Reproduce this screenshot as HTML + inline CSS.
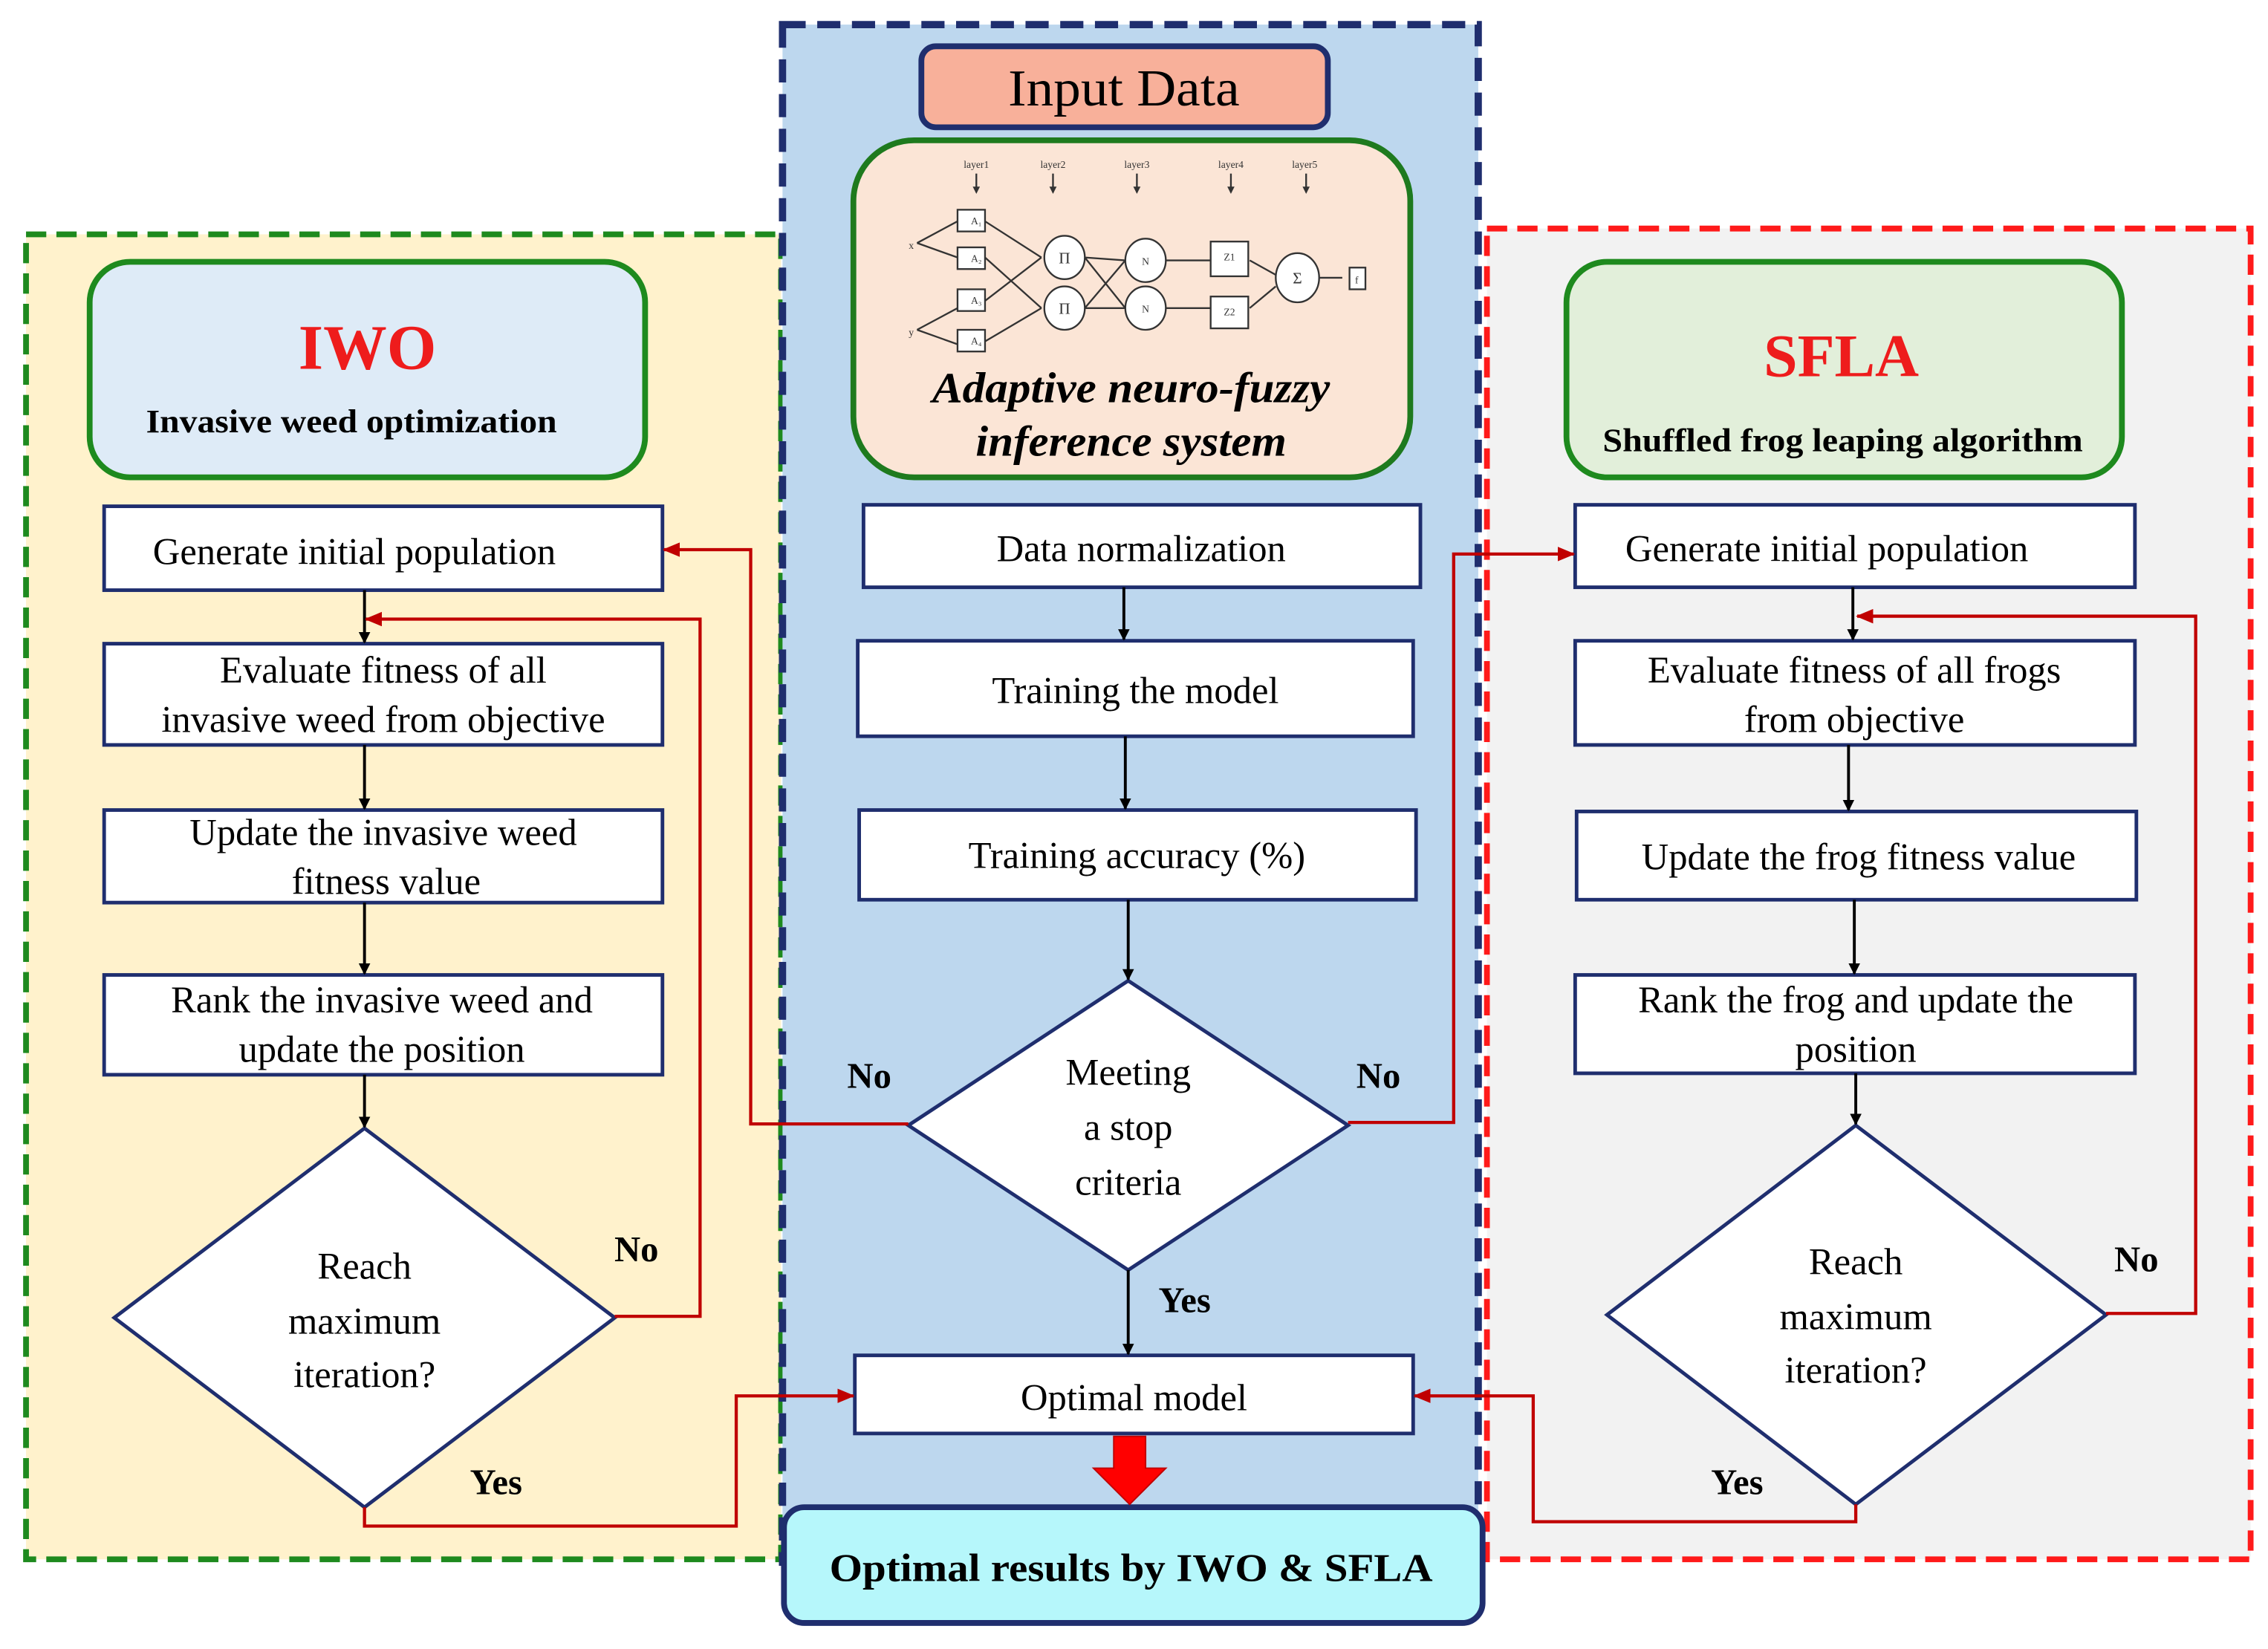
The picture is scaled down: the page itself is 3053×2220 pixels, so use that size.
<!DOCTYPE html>
<html><head><meta charset="utf-8"><style>html,body{margin:0;padding:0;background:#fff}svg{display:block}</style></head>
<body>
<svg width="3053" height="2220" viewBox="0 0 1568 1140" preserveAspectRatio="none" xmlns="http://www.w3.org/2000/svg" font-family="'Liberation Serif',serif">
<defs>
<marker id="ab" markerWidth="8" markerHeight="8" refX="7" refY="4" orient="auto" markerUnits="userSpaceOnUse"><path d="M0,0 L8,4 L0,8 z" fill="#000"/></marker>
<marker id="ar" markerWidth="12" markerHeight="10" refX="11" refY="5" orient="auto" markerUnits="userSpaceOnUse"><path d="M0,0 L12,5 L0,10 z" fill="#c00000"/></marker>
<marker id="as" markerWidth="5" markerHeight="5" refX="4" refY="2.5" orient="auto" markerUnits="userSpaceOnUse"><path d="M0,0 L5,2.5 L0,5 z" fill="#333"/></marker>
</defs>
<rect width="1568" height="1140" fill="#fff"/>
<rect x="18" y="162" width="522" height="916" fill="#fff2cc" stroke="#1e8a1e" stroke-width="4" stroke-dasharray="14,7"/>
<rect x="1028" y="158" width="528" height="920" fill="#f2f2f2" stroke="#ff1a1a" stroke-width="4" stroke-dasharray="14,7"/>
<rect x="541" y="17" width="481" height="1063" fill="#bdd7ee" stroke="#1f2e6e" stroke-width="5" stroke-dasharray="16,8"/>
<rect x="637" y="32" width="281" height="56" rx="10" fill="#f8b09a" stroke="#1f2e6e" stroke-width="4"/>
<text x="777" y="73" font-size="36" text-anchor="middle" textLength="160" lengthAdjust="spacingAndGlyphs">Input Data</text>
<rect x="590" y="97" width="385" height="233" rx="42" fill="#fbe5d6" stroke="#1e7a1e" stroke-width="4"/>
<rect x="62" y="181" width="384" height="149" rx="28" fill="#deebf7" stroke="#1e8a1e" stroke-width="4"/>
<text x="254" y="255" font-size="44" font-weight="bold" fill="#ee1c1c" text-anchor="middle">IWO</text>
<text x="243" y="299" font-size="23" font-weight="bold" text-anchor="middle" textLength="284" lengthAdjust="spacingAndGlyphs">Invasive weed optimization</text>
<rect x="1083" y="181" width="384" height="149" rx="28" fill="#e2efda" stroke="#1e8a1e" stroke-width="4"/>
<text x="1273" y="260" font-size="42" font-weight="bold" fill="#ee1c1c" text-anchor="middle">SFLA</text>
<text x="1274" y="312" font-size="23" font-weight="bold" text-anchor="middle" textLength="332" lengthAdjust="spacingAndGlyphs">Shuffled  frog  leaping  algorithm</text>
<g stroke="#333" stroke-width="1.2" fill="#fff" font-size="7">
<g fill="#333" stroke="none" text-anchor="middle"><text x="675" y="116">layer1</text><text x="728" y="116">layer2</text><text x="786" y="116">layer3</text><text x="851" y="116">layer4</text><text x="902" y="116">layer5</text><text x="630" y="172">x</text><text x="630" y="232">y</text></g>
<g fill="none"><path d="M675,120V133" marker-end="url(#as)"/><path d="M728,120V133" marker-end="url(#as)"/><path d="M786,120V133" marker-end="url(#as)"/><path d="M851,120V133" marker-end="url(#as)"/><path d="M903,120V133" marker-end="url(#as)"/>
<path d="M634,168L662,153M634,168L662,178M634,228L662,213M634,228L662,238"/>
<path d="M681,153L720,178M681,178L720,213M681,208L720,178M681,236L720,213"/>
<path d="M750,178L778,180M750,213L778,213M750,178L778,213M750,213L778,180"/>
<path d="M806,180L837,180M806,213L837,213M864,180L882,190M864,213L882,198M912,192L928,192"/></g>
<rect x="662" y="145" width="19" height="15"/><rect x="662" y="171" width="19" height="15"/><rect x="662" y="200" width="19" height="15"/><rect x="662" y="228" width="19" height="15"/>
<ellipse cx="736" cy="178" rx="14" ry="15"/><ellipse cx="736" cy="213" rx="14" ry="15"/>
<ellipse cx="792" cy="180" rx="14" ry="15"/><ellipse cx="792" cy="213" rx="14" ry="15"/>
<rect x="837" y="167" width="26" height="24"/><rect x="837" y="205" width="26" height="22"/>
<ellipse cx="897" cy="192" rx="15" ry="17"/><rect x="933" y="185" width="11" height="15"/>
<g fill="#333" stroke="none" text-anchor="middle"><text x="675" y="155">A₁</text><text x="675" y="181">A₂</text><text x="675" y="210">A₃</text><text x="675" y="238">A₄</text><text x="736" y="182" font-size="11">Π</text><text x="736" y="217" font-size="11">Π</text><text x="792" y="183">N</text><text x="792" y="216">N</text><text x="850" y="180">Z1</text><text x="850" y="218">Z2</text><text x="897" y="196" font-size="11">Σ</text><text x="938" y="196">f</text></g>
</g>
<text x="782" y="278" font-size="30" font-weight="bold" font-style="italic" text-anchor="middle" textLength="275" lengthAdjust="spacingAndGlyphs">Adaptive neuro-fuzzy</text>
<text x="782" y="315" font-size="30" font-weight="bold" font-style="italic" text-anchor="middle" textLength="215" lengthAdjust="spacingAndGlyphs">inference system</text>
<g fill="#fff" stroke="#1f2e6e" stroke-width="2.5">
<rect x="72" y="350" width="386" height="58"/><rect x="72" y="445" width="386" height="70"/><rect x="72" y="560" width="386" height="64"/><rect x="72" y="674" width="386" height="69"/>
<polygon points="252,780 425,911 252,1042 79,911"/>
<rect x="597" y="349" width="385" height="57"/><rect x="593" y="443" width="384" height="66"/><rect x="594" y="560" width="385" height="62"/>
<polygon points="780,678 932,778 780,878 628,778"/>
<rect x="591" y="937" width="386" height="54"/>
<rect x="1089" y="349" width="387" height="57"/><rect x="1089" y="443" width="387" height="72"/><rect x="1090" y="561" width="387" height="61"/><rect x="1089" y="674" width="387" height="68"/>
<polygon points="1283,778 1456,909 1283,1040 1111,909"/>
</g>
<rect x="542" y="1042" width="483" height="80" rx="14" fill="#b6f7fb" stroke="#1f2e6e" stroke-width="4"/>
<text x="782" y="1093" font-size="27" font-weight="bold" text-anchor="middle" textLength="417" lengthAdjust="spacingAndGlyphs">Optimal results by IWO &amp; SFLA</text>
<g font-size="26" text-anchor="middle">
<text x="245" y="390">Generate initial  population</text>
<text x="265" y="472">Evaluate  fitness of all</text><text x="265" y="506">invasive  weed from objective</text>
<text x="265" y="584">Update the invasive  weed</text><text x="267" y="618">fitness value</text>
<text x="264" y="700">Rank the invasive  weed and</text><text x="264" y="734">update the position</text>
<text x="252" y="884">Reach</text><text x="252" y="922">maximum</text><text x="252" y="959">iteration?</text>
<text x="789" y="388">Data normalization</text>
<text x="785" y="486">Training the model</text>
<text x="786" y="600">Training accuracy (%)</text>
<text x="780" y="750">Meeting</text><text x="780" y="788">a stop</text><text x="780" y="826">criteria</text>
<text x="784" y="975">Optimal model</text>
<text x="1263" y="388">Generate initial  population</text>
<text x="1282" y="472">Evaluate  fitness of all  frogs</text><text x="1282" y="506">from objective</text>
<text x="1285" y="601">Update the frog fitness value</text>
<text x="1283" y="700">Rank the frog and update the</text><text x="1283" y="734">position</text>
<text x="1283" y="881">Reach</text><text x="1283" y="919">maximum</text><text x="1283" y="956">iteration?</text>
</g>
<g font-size="25" font-weight="bold" text-anchor="middle">
<text x="601" y="752">No</text><text x="953" y="752">No</text><text x="440" y="872">No</text><text x="1477" y="879">No</text>
<text x="819" y="907">Yes</text><text x="343" y="1033">Yes</text><text x="1201" y="1033">Yes</text>
</g>
<g stroke="#000" stroke-width="2" fill="none" marker-end="url(#ab)">
<path d="M252,408V444"/><path d="M252,515V559"/><path d="M252,624V673"/><path d="M252,743V779"/>
<path d="M777,406V442"/><path d="M778,509V559"/><path d="M780,622V677"/><path d="M780,878V936"/>
<path d="M1281,406V442"/><path d="M1278,515V560"/><path d="M1282,622V673"/><path d="M1283,742V777"/>
</g>
<g stroke="#c00000" stroke-width="2.2" fill="none" marker-end="url(#ar)">
<path d="M628,777H519V380H459"/>
<path d="M425,910H484V428H253"/>
<path d="M252,1042V1055H509V965H590"/>
<path d="M932,776H1005V383H1088"/>
<path d="M1456,908H1518V426H1284"/>
<path d="M1283,1040V1052H1060V965H978"/>
</g>
<path d="M770,993H792V1015H806L781,1040L756,1015H770Z" fill="#ff0000" stroke="#c00000" stroke-width="1"/>
</svg>
</body></html>
